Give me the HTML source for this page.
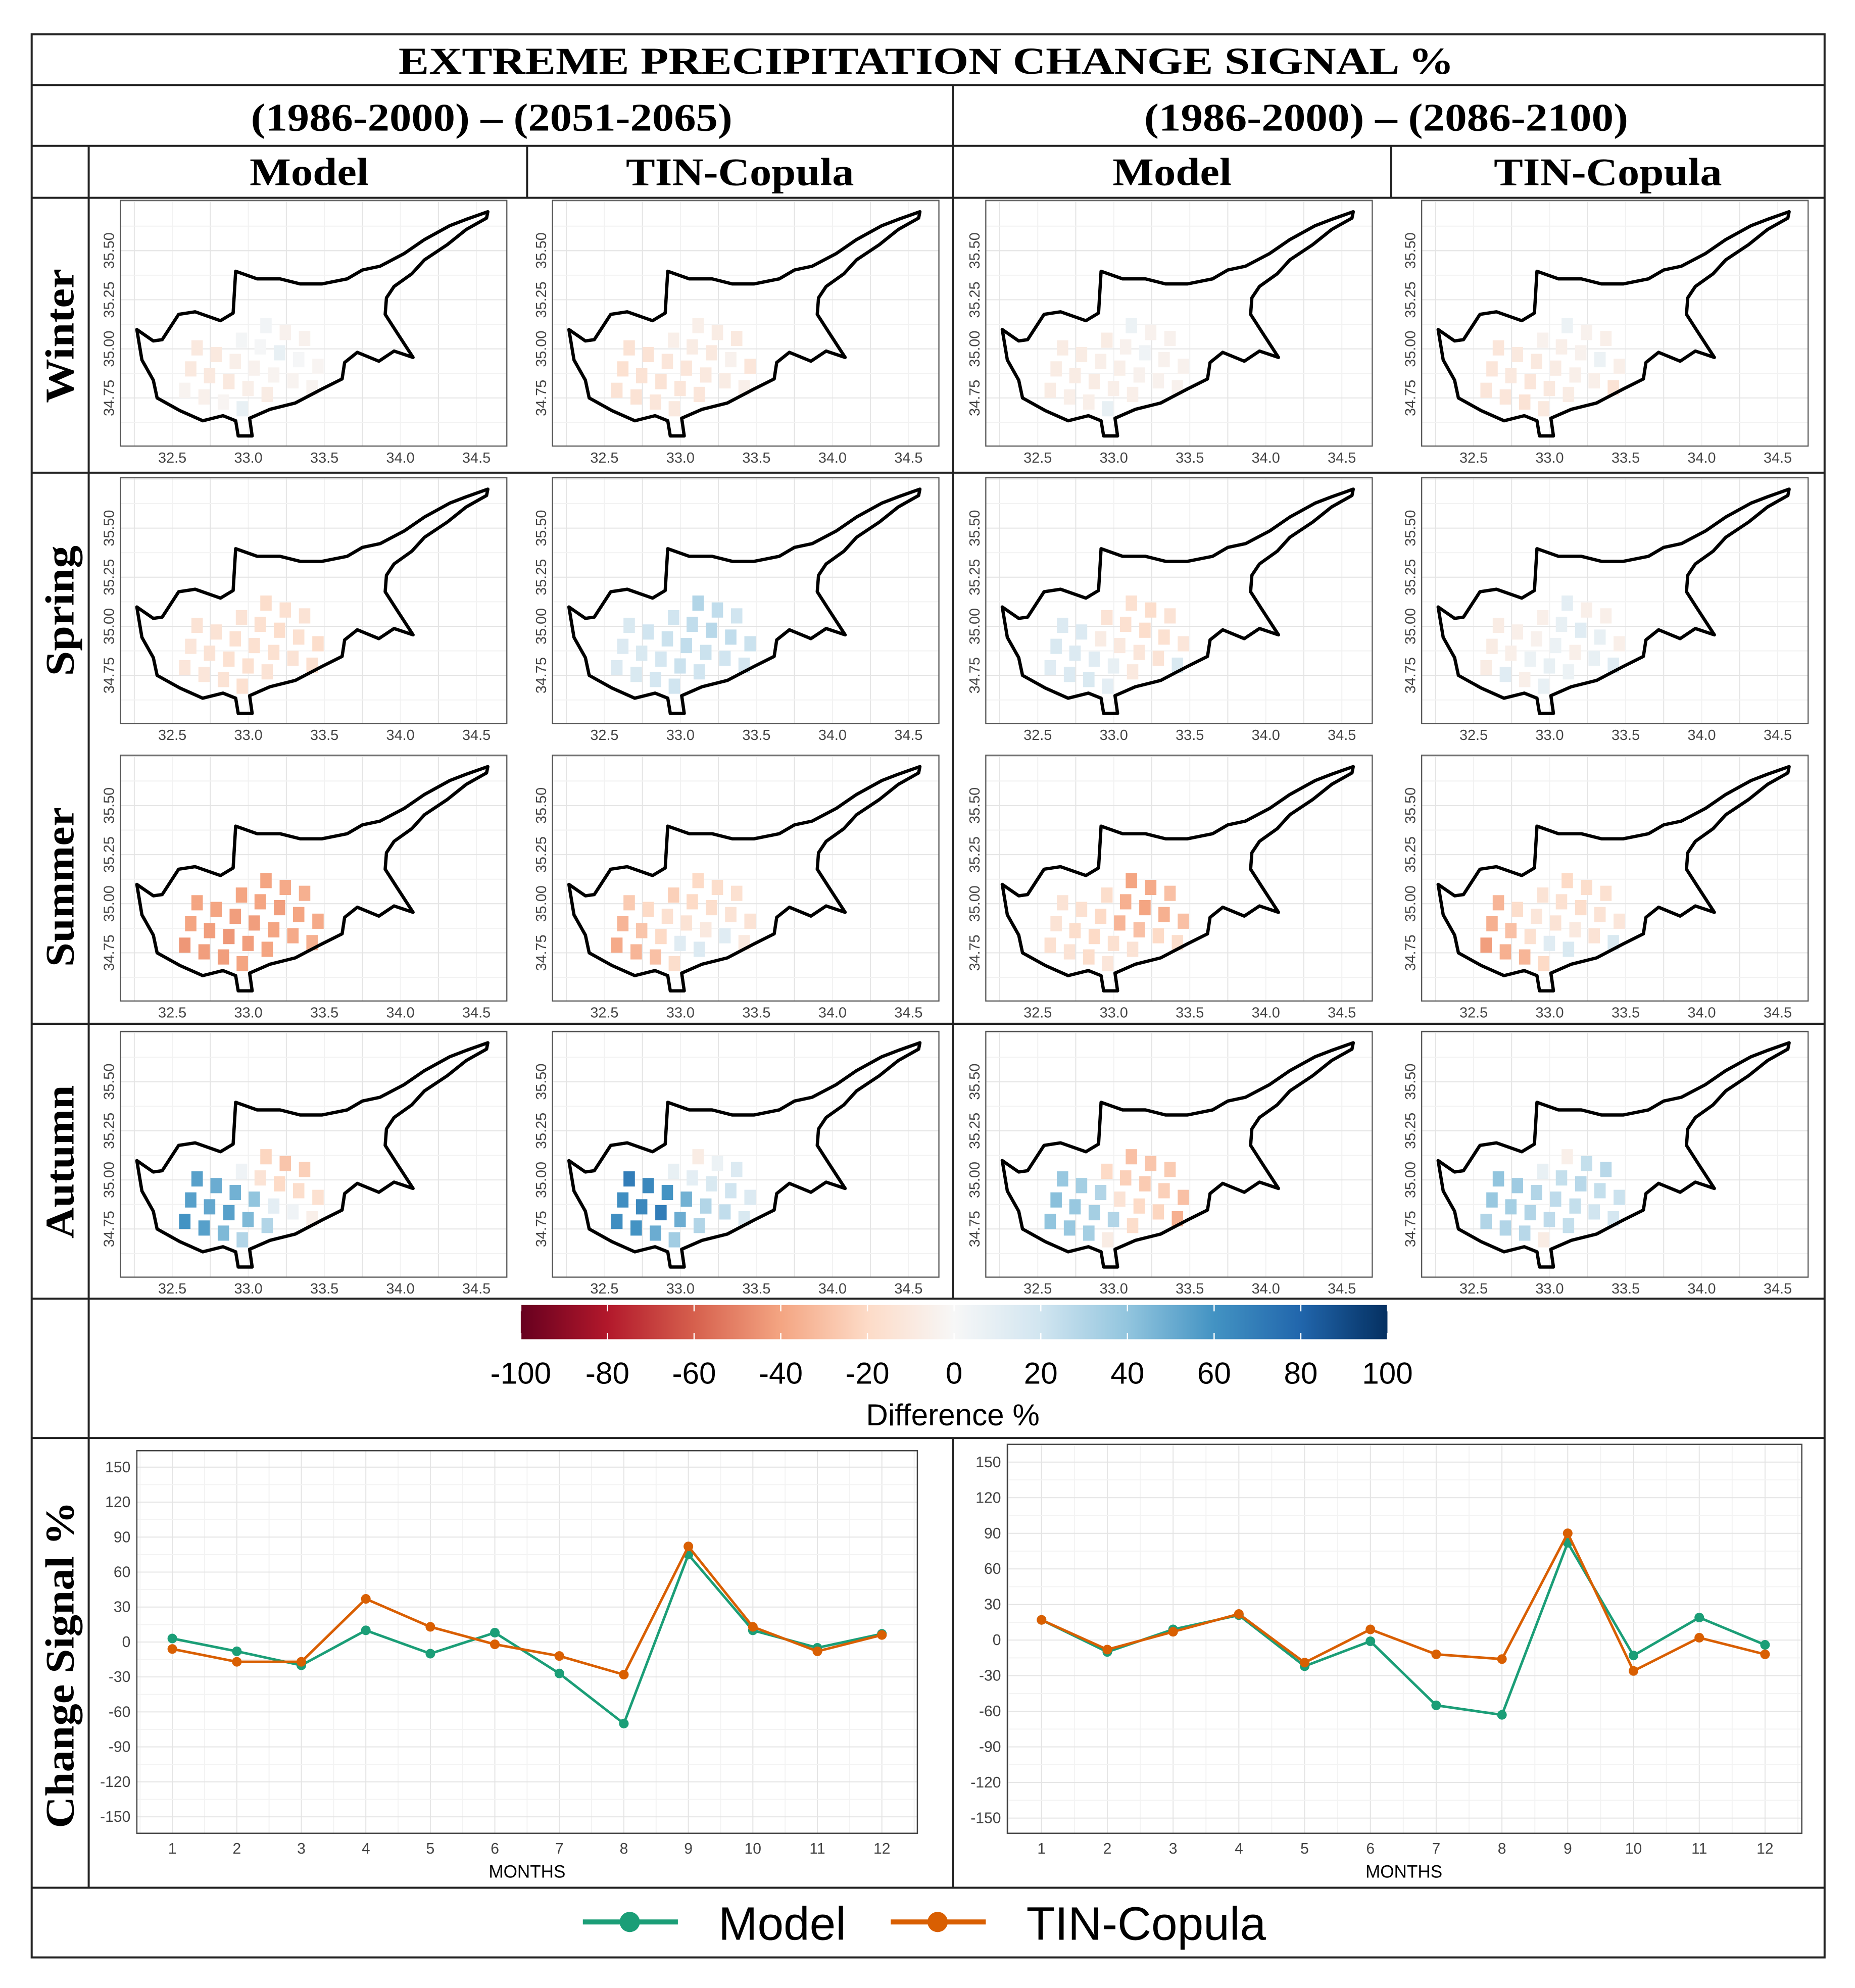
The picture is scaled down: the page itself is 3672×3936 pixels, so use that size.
<!DOCTYPE html>
<html><head><meta charset="utf-8"><title>Extreme Precipitation Change Signal</title>
<style>html,body{margin:0;padding:0;background:#fff}svg{display:block}</style></head>
<body>
<svg id="fig" xmlns="http://www.w3.org/2000/svg" width="3672" height="3936" viewBox="0 0 1464 1569" font-family="'Liberation Sans',sans-serif">
<rect x="0" y="0" width="1464" height="1569" fill="#fff"/>
<g id="grid-lines" stroke="#222" stroke-width="1.6" fill="none">
<rect x="25" y="27" width="1415" height="1518"/>
<line x1="25" y1="67" x2="1440" y2="67"/>
<line x1="25" y1="115" x2="1440" y2="115"/>
<line x1="25" y1="156" x2="1440" y2="156"/>
<line x1="25" y1="373" x2="1440" y2="373"/>
<line x1="25" y1="808" x2="1440" y2="808"/>
<line x1="25" y1="1025" x2="1440" y2="1025"/>
<line x1="25" y1="1135" x2="1440" y2="1135"/>
<line x1="25" y1="1490" x2="1440" y2="1490"/>
<line x1="752" y1="67" x2="752" y2="1025"/>
<line x1="752" y1="1135" x2="752" y2="1490"/>
<line x1="70" y1="115" x2="70" y2="1490"/>
<line x1="416" y1="115" x2="416" y2="156"/>
<line x1="1098" y1="115" x2="1098" y2="156"/>
</g>
<g font-family="'Liberation Serif',serif" font-weight="bold" fill="#000" text-anchor="middle">
<text x="731" y="58" font-size="30" textLength="833" lengthAdjust="spacingAndGlyphs">EXTREME  PRECIPITATION  CHANGE  SIGNAL %</text>
<text x="388" y="103" font-size="31" textLength="380" lengthAdjust="spacingAndGlyphs">(1986-2000) – (2051-2065)</text>
<text x="1094" y="103" font-size="31" textLength="382" lengthAdjust="spacingAndGlyphs">(1986-2000) – (2086-2100)</text>
<text x="244" y="146" font-size="31" textLength="94" lengthAdjust="spacingAndGlyphs">Model</text>
<text x="584" y="146" font-size="31" textLength="180" lengthAdjust="spacingAndGlyphs">TIN-Copula</text>
<text x="925" y="146" font-size="31" textLength="94" lengthAdjust="spacingAndGlyphs">Model</text>
<text x="1269" y="146" font-size="31" textLength="180" lengthAdjust="spacingAndGlyphs">TIN-Copula</text>
<text transform="translate(58,265) rotate(-90)" font-size="32" textLength="106" lengthAdjust="spacingAndGlyphs">Winter</text>
<text transform="translate(58,482) rotate(-90)" font-size="32" textLength="103" lengthAdjust="spacingAndGlyphs">Spring</text>
<text transform="translate(58,700) rotate(-90)" font-size="32" textLength="126" lengthAdjust="spacingAndGlyphs">Summer</text>
<text transform="translate(58,917) rotate(-90)" font-size="32" textLength="121" lengthAdjust="spacingAndGlyphs">Autumn</text>
<text transform="translate(58,1314) rotate(-90)" font-size="32" textLength="258" lengthAdjust="spacingAndGlyphs">Change Signal %</text>
</g>
<g id="maps"></g>
<g id="colorbar"></g>
<g id="lines"></g>
<g id="legend">
<line x1="460" y1="1517" x2="535" y2="1517" stroke="#1b9e77" stroke-width="4"/>
<circle cx="497" cy="1517" r="8" fill="#1b9e77"/>
<text x="567" y="1531" font-size="37">Model</text>
<line x1="703" y1="1517" x2="778" y2="1517" stroke="#d95f02" stroke-width="4"/>
<circle cx="740" cy="1517" r="8" fill="#d95f02"/>
<text x="810" y="1531" font-size="37">TIN-Copula</text>
</g>
</svg>
<script>
const NS='http://www.w3.org/2000/svg';
// ---------- map data ----------
const cellLons=[33.116,33.243,33.37, 32.955,33.078,33.205,33.331,33.458, 32.663,32.788,32.914,33.039,33.167,33.293,33.419, 32.621,32.745,32.872,32.998,33.124, 32.582,32.709,32.836,32.96];
const cellLats=[35.118,35.083,35.053, 35.044,35.010,34.980,34.945,34.911, 35.005,34.971,34.936,34.902,34.867,34.837,34.802, 34.898,34.863,34.833,34.798,34.768, 34.789,34.755,34.729,34.695];
const winterModel=[3,-4,-4, 2,1,8,1,-2, -10,-10,-6,-4,-3,-3,-3, -10,-10,-10,-6,-8, -3,-5,-2,8];
const winterTin=[-6,-8,-10, -6,-8,-10,-4,-12, -14,-14,-12,-12,-10,-8,-6, -16,-14,-14,-12,-12, -14,-14,-12,-10];
const winterModel2=[6,-4,-4, -8,-4,4,-4,-4, -8,-8,-6,-6,-4,-4,-4, -8,-8,-8,-6,-6, -8,-6,-6,8];
const winterTin2=[6,-4,-6, -4,-6,-4,6,-6, -12,-10,-10,-8,-6,-6,-14, -12,-10,-12,-10,-8, -12,-12,-14,-10];
const springModel=[-18,-16,-14, -14,-16,-18,-16,-18, -14,-14,-16,-16,-16,-14,-16, -12,-14,-16,-16,-14, -12,-12,-14,-16];
const springTin=[30,25,20, 20,25,28,25,22, 16,20,22,25,22,20,18, 14,16,18,22,20, 14,16,18,20];
const springModel2=[-16,-18,-14, -14,-16,-18,-16,-12, 14,14,-8,-10,-12,-14,16, 16,14,12,8,-10, 12,14,16,10];
const springTin2=[10,-6,-6, -6,8,12,8,-6, -8,-6,-4,6,-6,8,12, -8,-6,6,8,6, -8,12,-6,8];
const summerModel=[-40,-38,-36, -40,-40,-42,-40,-38, -40,-40,-42,-42,-40,-38,-36, -40,-42,-44,-42,-40, -44,-42,-42,-40];
const summerTin=[-20,-18,-16, -24,-20,-18,-14,-14, -26,-20,-16,-14,-10,12,-10, -34,-28,-20,12,14, -38,-34,-30,-18];
const summerModel2=[-40,-38,-30, -18,-36,-40,-36,-30, -14,-16,-20,-34,-30,-20,-18, -14,-18,-20,-16,-14, -16,-14,-18,-12];
const summerTin2=[-20,-18,-16, -14,-16,-18,-14,-12, -34,-18,-12,-14,-10,-14,16, -36,-30,-16,12,16, -42,-36,-34,-20];
const autumnModel=[-22,-28,-24, 4,-14,-20,-18,-16, 55,50,48,40,10,4,-6, 55,52,55,45,30, 60,55,45,30];
const autumnTin=[-8,6,14, 8,10,16,20,14, 70,65,60,48,30,25,16, 62,65,70,50,30, 62,60,50,35];
const autumnModel2=[-30,-28,-26, -20,-24,-26,-24,-30, 38,34,30,-14,-20,-22,-36, 42,38,34,30,-18, 40,38,34,-8];
const autumnTin2=[-6,24,28, 8,24,28,24,22, 40,36,30,26,24,20,18, 38,34,30,26,24, 30,30,28,-8];
const mapValues=[[winterModel,winterTin,winterModel2,winterTin2],[springModel,springTin,springModel2,springTin2],[summerModel,summerTin,summerModel2,summerTin2],[autumnModel,autumnTin,autumnModel2,autumnTin2]];
const seasonNames=['winter','spring','summer','autumn'];
const panelNames=['model-p1','tin-copula-p1','model-p2','tin-copula-p2'];
const colX=[136,477,819,1163];
const rowY=[314,533,752,970];
const xTicks=['32.5','33.0','33.5','34.0','34.5'];
const yTicks=['34.75','35.00','35.25','35.50'];
const outline=[[-28,-54],[-15,-45],[-8,-46],[5,-66],[18,-68],[38,-61],[48,-67],[50,-100],[67,-94],[85,-94],[101,-90],[118,-90],[138,-94],[150,-101],[164,-104],[183,-114],[199,-125],[219,-136],[232,-141],[249,-147],[248,-142],[232,-133],[217,-121],[199,-109],[189,-98],[175,-88],[169,-79],[168,-66],[177,-52],[190,-32],[175,-37],[163,-29],[146,-36],[136,-28],[134,-15],[118,-7],[97,4],[77,9],[61,16],[63,30],[52,30],[50,18],[40,14],[24,18],[6,10],[-12,0],[-15,-14],[-24,-30]];
const cbStops=['#67001f','#b2182b','#d6604d','#f4a582','#fddbc7','#f7f7f7','#d1e5f0','#92c5de','#4393c3','#2166ac','#053061'];
function hex(c){return [parseInt(c.substr(1,2),16),parseInt(c.substr(3,2),16),parseInt(c.substr(5,2),16)];}
function colorFor(v){let t=(Math.max(-100,Math.min(100,v))+100)/200*10;let i=Math.min(9,Math.floor(t));let f=t-i;let a=hex(cbStops[i]),b=hex(cbStops[i+1]);return 'rgb('+a.map((x,k)=>Math.round(x+(b[k]-x)*f)).join(',')+')';}
function mk(tag,attrs,parent){const e=document.createElementNS(NS,tag);for(const k in attrs)e.setAttribute(k,attrs[k]);parent.appendChild(e);return e;}
const maps=document.getElementById('maps');
for(let r=0;r<4;r++)for(let c=0;c<4;c++){
 const ox=colX[c],oy=rowY[r];
 const g=mk('g',{},maps);
 
 
 const lx=d=>ox+(d-32.5)*120, ly=d=>oy-(d-34.75)*155;
 const px0=ox-41,px1=ox+264,py0=oy-156,py1=oy+38;
 for(let k=-1;k<10;k++){const x=lx(32.25+k*0.25);if(x>px0&&x<px1)mk('line',{x1:x,x2:x,y1:py0,y2:py1,stroke:k%2?'#f2f2f2':'#e4e4e4','stroke-width':0.8},g);}
 for(let k=-2;k<10;k++){const y=ly(34.75+k*0.125);if(y>py0&&y<py1)mk('line',{x1:px0,x2:px1,y1:y,y2:y,stroke:k%2?'#f2f2f2':'#e4e4e4','stroke-width':0.8},g);}
 mk('rect',{x:px0,y:py0,width:px1-px0,height:py1-py0,fill:'none',stroke:'#555','stroke-width':0.9},g);
 xTicks.forEach((t,k)=>{const tx=mk('text',{x:lx(32.5+k*0.5),y:py1+13,'font-size':11.5,fill:'#444','text-anchor':'middle'},g);tx.textContent=t;});
 yTicks.forEach((t,k)=>{const y=ly(34.75+k*0.25);const tx=mk('text',{transform:'translate('+(px0-5)+','+y+') rotate(-90)','font-size':11.5,fill:'#444','text-anchor':'middle'},g);tx.textContent=t;});
 const vals=mapValues[r][c];
 cellLons.forEach((lon,i)=>{const cell=mk('rect',{x:lx(lon)-4.5,y:ly(cellLats[i])-6,width:9,height:12,fill:colorFor(vals[i])},g);
  
  });
 mk('path',{d:'M'+outline.map(p=>(ox+p[0])+','+(oy+p[1])).join('L')+'Z',fill:'none',stroke:'#000','stroke-width':2.6,'stroke-linejoin':'round'},g);
}
// ---------- colorbar ----------
const cbTicks=[-100,-80,-60,-40,-20,0,20,40,60,80,100];
const cb=document.getElementById('colorbar');


const defs=mk('defs',{},cb);const lg=mk('linearGradient',{id:'cbg',x1:0,x2:1,y1:0,y2:0},defs);
cbStops.forEach((s,i)=>mk('stop',{offset:i/10,'stop-color':s},lg));
const cbx=d=>411+(d+100)/200*684;
mk('rect',{x:411,y:1030,width:684,height:27,fill:'url(#cbg)'},cb);
cbTicks.forEach(t=>{mk('line',{x1:cbx(t),x2:cbx(t),y1:1030,y2:1035,stroke:'#fff','stroke-width':1},cb);mk('line',{x1:cbx(t),x2:cbx(t),y1:1052,y2:1057,stroke:'#fff','stroke-width':1},cb);
 const tx=mk('text',{x:cbx(t),y:1092,'font-size':24,'text-anchor':'middle',fill:'#000'},cb);tx.textContent=t;});
const cbt=mk('text',{x:752,y:1125,'font-size':24,'text-anchor':'middle'},cb);cbt.textContent='Difference %';


// ---------- line charts ----------
const months=[1,2,3,4,5,6,7,8,9,10,11,12];
const yTickVals=[-150,-120,-90,-60,-30,0,30,60,90,120,150];
const modelP1=[3,-8,-20,10,-10,8,-27,-70,75,10,-5,7];
const tinP1=[-6,-17,-17,37,13,-2,-12,-28,82,13,-8,6];
const modelP2=[17,-10,9,21,-22,-1,-55,-63,82,-13,19,-4];
const tinP2=[17,-8,7,22,-19,9,-12,-16,90,-26,2,-12];
const charts=[{n:'p1',x0:108,x1:724,y0:1145,y1:1447,m1:136,m12:696,v150:1158,vm150:1434,s:[modelP1,tinP1],lab:416},
 {n:'p2',x0:795,x1:1422,y0:1140,y1:1447,m1:822,m12:1393,v150:1154,vm150:1435,s:[modelP2,tinP2],lab:1108}];
const lines=document.getElementById('lines');
charts.forEach(ch=>{
 const g=mk('g',{},lines);
 
 
 const xs=m=>ch.m1+(m-1)*(ch.m12-ch.m1)/11, ys=v=>ch.v150+(150-v)*(ch.vm150-ch.v150)/300;
 for(let m=0.5;m<=12.5;m+=0.5)mk('line',{x1:xs(m),x2:xs(m),y1:ch.y0,y2:ch.y1,stroke:m%1?'#f3f3f3':'#e4e4e4','stroke-width':0.8},g);
 for(let v=-165;v<=165;v+=15){const y=ys(v);if(y>ch.y0&&y<ch.y1)mk('line',{x1:ch.x0,x2:ch.x1,y1:y,y2:y,stroke:(v%30)?'#f3f3f3':'#e4e4e4','stroke-width':0.8},g);}
 mk('rect',{x:ch.x0,y:ch.y0,width:ch.x1-ch.x0,height:ch.y1-ch.y0,fill:'none',stroke:'#444','stroke-width':1},g);
 yTickVals.forEach(v=>{const t=mk('text',{x:ch.x0-5,y:ys(v)+4,'font-size':12,'text-anchor':'end',fill:'#444'},g);t.textContent=v;});
 months.forEach(m=>{const t=mk('text',{x:xs(m),y:ch.y1+16,'font-size':12,'text-anchor':'middle',fill:'#444'},g);t.textContent=m;});
 const lb=mk('text',{x:ch.lab,y:ch.y1+35,'font-size':14,'text-anchor':'middle'},g);lb.textContent='MONTHS';
 ['#1b9e77','#d95f02'].forEach((col,si)=>{const vals=ch.s[si];
  const p=mk('polyline',{points:months.map((m,i)=>xs(m)+','+ys(vals[i])).join(' '),fill:'none',stroke:col,'stroke-width':2},g);
  
  
  months.forEach((m,i)=>{const c=mk('circle',{cx:xs(m),cy:ys(vals[i]),r:3.8,fill:col},g);
   
   });});
});
</script>
</body></html>
